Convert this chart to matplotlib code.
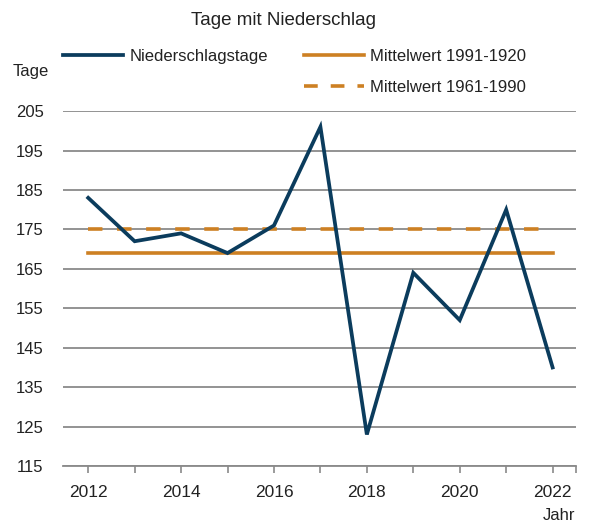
import numpy as np
import matplotlib.pyplot as plt
from matplotlib.lines import Line2D

plt.rcParams['font.family'] = ['Liberation Sans', 'DejaVu Sans']

# data
years = [2012, 2013, 2014, 2015, 2016, 2017, 2018, 2019, 2020, 2021, 2022]
tage = [183, 172, 174, 169, 176, 201, 123, 164, 152, 180, 140]
mittel_1991 = 169
mittel_1961 = 175

navy = '#0b3c5d'
orange = '#cd8023'
grid_grey = '#8a8a8a'
txt = '#222222'

fig = plt.figure(figsize=(5.9, 5.29), dpi=100)
ax = fig.add_axes([0.107, 0.119, 0.869, 0.671])

ax.plot(years, tage, color=navy, lw=2.7, solid_joinstyle='miter', zorder=4)
ax.plot([years[0], years[-1]], [mittel_1991] * 2, color=orange, lw=2.6, zorder=3)
ax.plot([years[0], years[-1]], [mittel_1961] * 2, color=orange, lw=2.6,
        dashes=(4.0, 4.05), zorder=3)

ax.set_xlim(2011.46, 2022.5)
ax.set_ylim(115, 205)
ax.set_yticks(np.arange(115, 206, 10))
ax.set_xticks(range(2012, 2023, 2))
ax.set_xticks(list(range(2013, 2023, 2)) + [2022.5], minor=True)

ax.grid(axis='y', color=grid_grey, lw=1.3)
ax.set_axisbelow(True)
for s in ['top', 'right', 'left']:
    ax.spines[s].set_visible(False)
ax.spines['bottom'].set_color(grid_grey)
ax.spines['bottom'].set_linewidth(1.3)

ax.tick_params(axis='y', length=0, pad=14, labelsize=12, labelcolor=txt)
ax.tick_params(axis='x', which='both', length=5, width=1.2, color=grid_grey,
               pad=9, labelsize=12.5, labelcolor=txt)

fig.text(0.48, 0.962, 'Tage mit Niederschlag', ha='center', va='center',
         fontsize=13.5, color=txt)
fig.text(0.022, 0.864, 'Tage', ha='left', va='center', fontsize=12, color=txt)
fig.text(0.975, 0.026, 'Jahr', ha='right', va='center', fontsize=12, color=txt)

handles = [
    Line2D([], [], color=navy, lw=2.7),
    Line2D([], [], color='none'),
    Line2D([], [], color=orange, lw=2.6),
    Line2D([], [], color=orange, lw=2.6, dashes=(3.8, 3.6)),
]
labels = ['Niederschlagstage', '', 'Mittelwert 1991-1920', 'Mittelwert 1961-1990']
fig.legend(handles, labels, ncol=2, loc='upper left', bbox_to_anchor=(0.082, 0.936),
           frameon=False, fontsize=12, handlelength=3.6, handletextpad=0.35,
           columnspacing=2.2, labelspacing=0.95, labelcolor=txt)

fig.savefig('out.png', dpi=100)
